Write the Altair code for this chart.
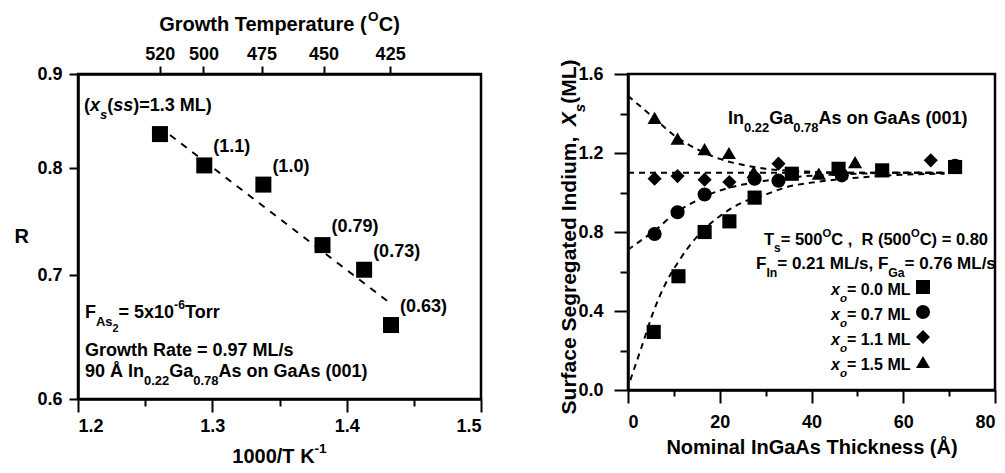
import altair as alt
import pandas as pd

FONT = "Liberation Sans"

# ---------------- Left panel data ----------------
inv_T = [1.261, 1.294, 1.338, 1.382, 1.413, 1.433]
R_vals = [0.835, 0.803, 0.784, 0.727, 0.705, 0.658]
pt_labels = ["", "(1.1)", "(1.0)", "(0.79)", "(0.73)", "(0.63)"]
fit_invT = [1.2685, 1.4338]
fit_R = [0.834, 0.675]
top_temps_C = [520, 500, 475, 450, 425]
left_x_ticks = [1.2, 1.25, 1.3, 1.35, 1.4, 1.45, 1.5]
left_y_ticks = [0.6, 0.7, 0.8, 0.9]

# ---------------- Right panel data ----------------
series_names = ["x0=0.0", "x0=0.7", "x0=1.1", "x0=1.5"]
series_shapes = ["square", "circle", "diamond", "triangle-up"]

sq_x = [5.6, 11.0, 16.7, 22.1, 27.6, 35.7, 45.9, 55.4, 71.3]
sq_y = [0.294, 0.576, 0.80, 0.854, 0.974, 1.095, 1.12, 1.112, 1.129]
ci_x = [5.8, 10.8, 16.7, 27.6, 32.8, 46.6, 71.3]
ci_y = [0.79, 0.90, 0.99, 1.07, 1.06, 1.087, 1.135]
di_x = [5.8, 10.8, 16.7, 22.1, 32.8, 66.0]
di_y = [1.07, 1.083, 1.065, 1.053, 1.146, 1.163]
tr_x = [5.8, 10.8, 16.7, 22.0, 27.4, 41.6, 49.5]
tr_y = [1.378, 1.273, 1.22, 1.20, 1.105, 1.095, 1.154]

cv_sq_x = [0.5, 3, 5.6, 8, 11, 15, 20, 25, 30, 35, 40, 50, 60, 69]
cv_sq_y = [0.05, 0.22, 0.40, 0.53, 0.65, 0.775, 0.88, 0.95, 0.99, 1.03, 1.05, 1.075, 1.09, 1.095]
cv_ci_x = [0, 3, 6, 10, 15, 20, 25, 30, 35, 40, 50, 60, 69]
cv_ci_y = [0.71, 0.76, 0.81, 0.89, 0.96, 1.01, 1.04, 1.06, 1.075, 1.085, 1.095, 1.1, 1.1]
cv_di_x = [0, 69]
cv_di_y = [1.1, 1.1]
cv_tr_x = [0, 3, 6, 10, 15, 20, 25, 30, 35, 40, 50, 69]
cv_tr_y = [1.49, 1.43, 1.37, 1.29, 1.22, 1.17, 1.14, 1.12, 1.11, 1.105, 1.1, 1.1]

right_x_ticks = [0, 10, 20, 30, 40, 50, 60, 70, 80]
right_y_ticks = [0, 0.2, 0.4, 0.6, 0.8, 1.0, 1.2, 1.4, 1.6]

# ---------------- rich text helper (sub/superscripts) ----------------
NB = "\u00a0"
W = {' ': 278, NB: 278, '(': 333, ')': 333, ',': 278, '-': 333, '.': 278, '/': 278, '=': 584,
     'A': 722, 'C': 722, 'F': 611, 'G': 778, 'I': 278, 'K': 722, 'L': 611, 'M': 833,
     'N': 722, 'O': 778, 'R': 722, 'S': 667, 'T': 611, 'X': 667, 'Å': 722,
     'a': 556, 'c': 556, 'd': 611, 'e': 556, 'g': 611, 'h': 611, 'i': 278, 'k': 556,
     'l': 278, 'm': 889, 'n': 611, 'o': 611, 'p': 611, 'r': 389, 's': 556, 't': 333,
     'u': 611, 'w': 778, 'x': 556}
STY = {"n": (1.0, 0.0, "normal"), "i": (1.0, 0.0, "italic"),
       "sub": (0.72, 0.45, "normal"), "subi": (0.72, 0.45, "italic"),
       "sup": (0.68, -0.5, "normal"), "subsub": (0.6, 0.75, "normal")}


def tw(s, size):
    return sum(W.get(c, 556) for c in s) * size / 1000.0


def rich(segs, x0, y0, base, align="left", rotate=False):
    total = sum(tw(t, base * STY[k][0]) for t, k in segs)
    rows = []
    if rotate:
        pos = y0 + total / 2
        for t, k in segs:
            f, d, st = STY[k]
            size = base * f
            rows.append(dict(t=t, px=x0 + d * base, py=pos, s=size, st=st, rot=1))
            pos -= tw(t, size)
        return rows
    pos = x0 - total / 2 if align == "center" else x0
    for t, k in segs:
        f, d, st = STY[k]
        size = base * f
        rows.append(dict(t=t, px=pos, py=y0 + d * base, s=size, st=st, rot=0))
        pos += tw(t, size)
    return rows


def text_layers(rows):
    df = pd.DataFrame(rows)
    layers = []
    for st in ["normal", "italic"]:
        for rot in [0, 1]:
            sub = df[(df.st == st) & (df.rot == rot)]
            if len(sub) == 0:
                continue
            layers.append(
                alt.Chart(sub).mark_text(
                    font=FONT, fontWeight="bold", fontStyle=st, align="left",
                    baseline="alphabetic", color="black", angle=270 if rot else 0
                ).encode(
                    x=alt.X("px:Q", scale=None),
                    y=alt.Y("py:Q", scale=None),
                    text="t:N",
                    size=alt.Size("s:Q", scale=None, legend=None),
                )
            )
    return layers


# ---------------- Left panel ----------------
LW, LH = 403, 325
SPACING = 147
left_pts = pd.DataFrame({"invT": inv_T, "R": R_vals, "lab": pt_labels})
left_fit = pd.DataFrame({"invT": fit_invT, "R": fit_R})
top_pos = [1000.0 / (t + 273.15) for t in top_temps_C]
top_df = pd.DataFrame({"invT": top_pos})

lx = alt.Scale(domain=[1.2, 1.5], nice=False, zero=False)
ly = alt.Scale(type="log", domain=[0.6, 0.9], nice=False, zero=False)

major_lx = "abs(datum.value*10 - round(datum.value*10)) < 0.01"
bottom_axis = alt.Axis(
    orient="bottom", values=left_x_ticks, title=None,
    labelExpr=f"{major_lx} ? format(datum.value, '.1f') : ''",
    tickSize={"condition": {"test": major_lx, "value": 13}, "value": 7},
    labelPadding=5,
)
left_axis = alt.Axis(
    values=left_y_ticks, format=".1f", title="R", titleAngle=0, titleX=-64,
    titleY=LH / 2, titleAlign="left", titleBaseline="middle", tickSize=9, labelPadding=7,
)
top_axis = alt.Axis(
    orient="top", values=top_pos, title=None,
    labelExpr="format(1000/datum.value - 273.15, '.0f')", tickSize=8, labelPadding=3,
)

X_L = alt.X("invT:Q", scale=lx, axis=bottom_axis)
Y_L = alt.Y("R:Q", scale=ly, axis=left_axis)

fit_line = alt.Chart(left_fit).mark_line(
    color="black", strokeWidth=2, strokeDash=[7, 7]
).encode(x=X_L, y=Y_L)

squares = alt.Chart(left_pts).mark_square(size=256, color="black", opacity=1).encode(x=X_L, y=Y_L)

pt_text = alt.Chart(left_pts).mark_text(
    font=FONT, fontWeight="bold", fontSize=18, align="left", baseline="alphabetic",
    dx=9, dy=-13, color="black"
).encode(x=X_L, y=Y_L, text="lab:N")

top_layer = alt.Chart(top_df).mark_point(opacity=0).encode(
    x=alt.X("invT:Q", scale=alt.Scale(domain=[1.2, 1.5], nice=False, zero=False), axis=top_axis),
)

left_rows = []
left_rows += rich([("(", "n"), ("x", "i"), ("s", "subi"), ("(", "n"), ("ss", "i"), (")=1.3 ML)", "n")], 6, 37, 18)
left_rows += rich([("F", "n"), ("As", "sub"), ("2", "subsub"), ("= 5x10", "n"), ("-6", "sup"), ("Torr", "n")], 7, 244, 18)
left_rows += rich([("Growth Rate = 0.97 ML/s", "n")], 7, 282, 18)
left_rows += rich([("90 Å In", "n"), ("0.22", "sub"), ("Ga", "n"), ("0.78", "sub"), ("As on GaAs (001)", "n")], 7, 303, 18)
left_rows += rich([("Growth Temperature (", "n"), ("O", "sup"), ("C)", "n")], LW / 2, -43, 20, align="center")
left_rows += rich([("1000/T K", "n"), ("-1", "sup")], LW / 2, 389, 20, align="center")

left_main = alt.layer(fit_line, squares, pt_text, *text_layers(left_rows))
left = alt.layer(left_main, top_layer).resolve_scale(x="independent").properties(width=LW, height=LH)

# ---------------- Right panel ----------------
RW, RH = 367, 316
pts_rows = []
for name, xs, ys in zip(series_names, [sq_x, ci_x, di_x, tr_x], [sq_y, ci_y, di_y, tr_y]):
    for a, b in zip(xs, ys):
        pts_rows.append({"t": a, "xs": b, "series": name})
pts_df = pd.DataFrame(pts_rows)

cv_rows = []
for name, xs, ys in zip(series_names, [cv_sq_x, cv_ci_x, cv_di_x, cv_tr_x], [cv_sq_y, cv_ci_y, cv_di_y, cv_tr_y]):
    for a, b in zip(xs, ys):
        cv_rows.append({"t": a, "xs": b, "series": name})
cv_df = pd.DataFrame(cv_rows)

rx = alt.Scale(domain=[0, 80], nice=False, zero=False)
ry = alt.Scale(domain=[0, 1.6], nice=False, zero=False)
major_rx = "abs(datum.value/20 - round(datum.value/20)) < 0.01"
major_ry = "abs(datum.value/0.4 - round(datum.value/0.4)) < 0.01"
rx_axis = alt.Axis(
    values=right_x_ticks, title="Nominal InGaAs Thickness (Å)",
    labelExpr=f"{major_rx} ? format(datum.value, 'd') : ''",
    tickSize={"condition": {"test": major_rx, "value": 13}, "value": 6},
    labelPadding=10, titlePadding=6,
)
ry_axis = alt.Axis(
    values=right_y_ticks, title=None,
    labelExpr=f"{major_ry} ? format(datum.value, '.1f') : ''",
    tickSize={"condition": {"test": major_ry, "value": 14}, "value": 8},
    labelPadding=11,
)
X_R = alt.X("t:Q", scale=rx, axis=rx_axis)
Y_R = alt.Y("xs:Q", scale=ry, axis=ry_axis)

curves = alt.Chart(cv_df).mark_line(
    color="black", strokeWidth=2, strokeDash=[6, 5], interpolate="monotone"
).encode(x=X_R, y=Y_R, detail="series:N")

# the shared legend lives in the top-level group, whose origin is the left plot's origin
points = alt.Chart(pts_df).mark_point(filled=True, color="black", opacity=1, size=200).encode(
    x=X_R, y=Y_R,
    shape=alt.Shape("series:N", scale=alt.Scale(domain=series_names, range=series_shapes),
                    legend=alt.Legend(orient="none", legendX=LW + SPACING + 288, legendY=206,
                                      title=None, padding=0, symbolSize=196,
                                      symbolFillColor="black", symbolStrokeColor="black",
                                      symbolStrokeWidth=0, symbolOpacity=1, labelExpr="''",
                                      labelFontSize=10, rowPadding=11)),
)

right_rows = []
right_rows += rich([("In", "n"), ("0.22", "sub"), ("Ga", "n"), ("0.78", "sub"), ("As on GaAs (001)", "n")], 100, 50, 18)
right_rows += rich([("T", "n"), ("s", "sub"), ("= 500", "n"), ("O", "sup"), ("C ," + NB + " R (500", "n"), ("O", "sup"), ("C) = 0.80", "n")], 136, 171, 16.5)
right_rows += rich([("F", "n"), ("In", "sub"), ("= 0.21 ML/s, F", "n"), ("Ga", "sub"), ("= 0.76 ML/s", "n")], 128, 195, 17)
for i, v in enumerate(["0.0", "0.7", "1.1", "1.5"]):
    right_rows += rich([("x", "i"), ("o", "subi"), (f"= {v} ML", "n")], 203, 221 + 25 * i, 16)
right_rows += rich([("Surface Segregated Indium, ", "n"), ("X", "i"), ("s", "subi"), (" (ML)", "n")],
                   -52, RH / 2 + 2, 21, rotate=True)

right = alt.layer(curves, points, *text_layers(right_rows)).properties(width=RW, height=RH)

chart = alt.hconcat(left, right, spacing=SPACING, bounds="flush").properties(
    padding={"left": 12, "top": 8, "right": 5, "bottom": 5},
    background="white",
).configure_view(
    stroke="black", strokeWidth=2.5
).configure_axis(
    labelFont=FONT, labelFontSize=18, labelFontWeight="bold", labelColor="black",
    titleFont=FONT, titleFontSize=20, titleFontWeight="bold", titleColor="black",
    domainColor="black", domainWidth=2.5, tickColor="black", tickWidth=2, grid=False,
)

chart.save("out.html", embed_options={"renderer": "svg", "actions": False})
